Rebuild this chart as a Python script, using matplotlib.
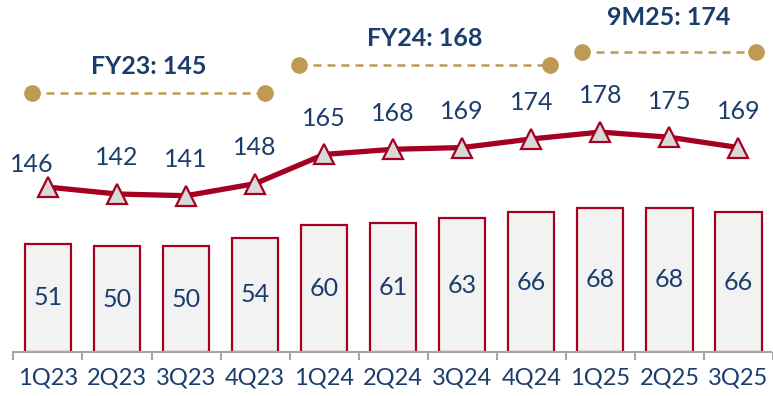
import matplotlib.pyplot as plt
import matplotlib.transforms as mtransforms
import numpy as np

# Trimestres, volumes (barres) et indicateur (ligne)
trimestres = ['1Q23', '2Q23', '3Q23', '4Q23', '1Q24', '2Q24', '3Q24', '4Q24', '1Q25', '2Q25', '3Q25']
barres = [51, 50, 50, 54, 60, 61, 63, 66, 68, 68, 66]
ligne = [146, 142, 141, 148, 165, 168, 169, 174, 178, 175, 169]

# Moyennes par période : (libellé, premier trimestre, dernier trimestre)
periodes = ['FY23: 145', 'FY24: 168', '9M25: 174']
debut_periode = [0, 4, 8]
fin_periode = [3, 7, 10]

ROUGE = '#A50021'
MARINE = '#1B3D6B'
OR = '#BF9A55'
GRIS = '#A6A6A6'

plt.rcParams['font.family'] = ['Lato', 'DejaVu Sans']

fig = plt.figure(figsize=(7.73, 3.96), dpi=100)
ax = fig.add_axes([0, 0.111, 1, 0.889])
x = np.arange(len(trimestres))

# Barres
ax.bar(x, barres, width=0.67, color='#F2F2F2', edgecolor=ROUGE, linewidth=1.6, zorder=2)
for xi, v in zip(x, barres):
    ax.text(xi, v / 2, str(v), ha='center', va='center', fontsize=18, color=MARINE)

ax.set_xlim(-0.694, 10.477)
ax.set_ylim(0, 166)
ax.set_yticks([])
for s in ['left', 'right', 'top']:
    ax.spines[s].set_visible(False)
ax.spines['bottom'].set_bounds(-0.5, 10.477)
ax.spines['bottom'].set_color(GRIS)
ax.spines['bottom'].set_linewidth(1.5)
ax.set_xticks(x)
ax.set_xticklabels(trimestres, fontsize=17, color=MARINE)
ax.tick_params(axis='x', which='major', length=0, pad=11)
ax.set_xticks(np.arange(-0.5, 11, 1), minor=True)
ax.tick_params(axis='x', which='minor', length=6, width=1.5, color=GRIS)

# Ligne sur un second axe
ax2 = ax.twinx()
ax2.set_ylim(50.1, 254.8)
ax2.set_yticks([])
for s in ax2.spines.values():
    s.set_visible(False)
ax2.plot(x, ligne, color=ROUGE, linewidth=3.8, zorder=3,
         marker='^', markersize=15, markerfacecolor='#D9D9D9',
         markeredgecolor=ROUGE, markeredgewidth=1.6)
for i, (xi, v) in enumerate(zip(x, ligne)):
    dx, dy = (-11.5, 16) if i == 0 else (0, 26)
    ax2.annotate(str(v), (xi, v), xytext=(dx, dy), textcoords='offset points',
                 ha='center', va='center', fontsize=18, color=MARINE)

# Repères des moyennes par période
trans = mtransforms.blended_transform_factory(ax2.transData, ax2.transAxes)
bornes = [(-0.23, 3.15), (3.64, 7.27), (7.73, 10.25)]
h_trait = [0.736, 0.815, 0.852]
h_texte = [0.8125, 0.892, 0.949]
for lib, (xd, xf), h, ht in zip(periodes, bornes, h_trait, h_texte):
    ax2.plot([xd, xf], [h, h], transform=trans, color=OR, linewidth=1.8,
             linestyle=(0, (3.2, 2.4)), clip_on=False)
    ax2.plot([xd, xf], [h, h], transform=trans, color=OR, linestyle='none',
             marker='o', markersize=11, clip_on=False)
    ax2.text((xd + xf) / 2, ht, lib, transform=trans, ha='center',
             va='center', fontsize=18, fontweight='bold', color=MARINE)

fig.savefig('out.png', dpi=100)
